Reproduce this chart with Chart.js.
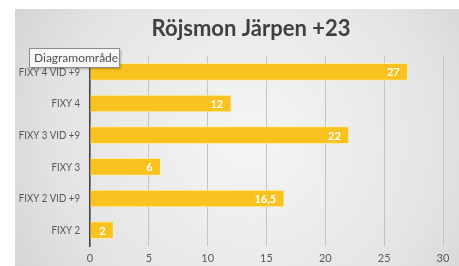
<!DOCTYPE html>
<html>
<head>
<meta charset="utf-8">
<script src="https://cdn.jsdelivr.net/npm/chart.js@4"></script>
<style>
  html, body { margin: 0; padding: 0; background: #fff; }
  #wrap { position: relative; width: 459px; height: 266px; }
</style>
</head>
<body>
<div id="wrap"><canvas id="barChart"></canvas></div>
<script>
// ---------- data ---------- //
const categories = ["FIXY 4 VID +9", "FIXY 4", "FIXY 3 VID +9", "FIXY 3", "FIXY 2 VID +9", "FIXY 2"];
const values = [27, 12, 22, 6, 16.5, 2];
const xTicks = [0, 5, 10, 15, 20, 25, 30];
const chartTitle = "Röjsmon Järpen +23";

const fontFamily = "Lato, 'Open Sans', sans-serif";

// gray panel behind the chart + title
const panelBg = {
  id: "panelBg",
  beforeDraw(chart) {
    const ctx = chart.ctx;
    ctx.save();
    ctx.fillStyle = "#ffffff";
    ctx.fillRect(0, 0, chart.width, chart.height);
    const g = ctx.createRadialGradient(250, 140, 20, 250, 140, 300);
    g.addColorStop(0, "#f4f4f4");
    g.addColorStop(0.6, "#e4e4e4");
    g.addColorStop(1, "#cfcfcf");
    ctx.fillStyle = g;
    ctx.fillRect(15, 9, chart.width - 15, chart.height - 9);
    ctx.fillStyle = "#404040";
    ctx.font = "bold 22px " + fontFamily;
    ctx.textAlign = "center";
    ctx.textBaseline = "middle";
    ctx.fillText(chartTitle, 251, 29);
    ctx.restore();
  }
};

// category labels, squeezed a bit to look like Calibri
const catLabels = {
  id: "catLabels",
  afterDraw(chart) {
    const ctx = chart.ctx;
    const y = chart.scales.y;
    ctx.save();
    ctx.fillStyle = "#595959";
    ctx.font = "11.5px " + fontFamily;
    ctx.textAlign = "right";
    ctx.textBaseline = "middle";
    categories.forEach((c, i) => {
      ctx.save();
      ctx.translate(80, y.getPixelForTick(i));
      ctx.scale(0.84, 1);
      ctx.fillText(c, 0, 0);
      ctx.restore();
    });
    ctx.restore();
  }
};

// value labels inside the bar end
const valueLabels = {
  id: "valueLabels",
  afterDatasetsDraw(chart) {
    const ctx = chart.ctx;
    const meta = chart.getDatasetMeta(0);
    ctx.save();
    ctx.fillStyle = "#ffffff";
    ctx.font = "bold 11px " + fontFamily;
    ctx.textAlign = "right";
    ctx.textBaseline = "middle";
    meta.data.forEach((bar, i) => {
      const txt = String(values[i]).replace(".", ",");
      ctx.fillText(txt, bar.x - 8, bar.y + 1);
    });
    ctx.restore();
  }
};

// the little "Diagramområde" hover box
const hoverBox = {
  id: "hoverBox",
  afterDraw(chart) {
    const ctx = chart.ctx;
    ctx.save();
    ctx.shadowColor = "rgba(0,0,0,0.25)";
    ctx.shadowOffsetX = 1;
    ctx.shadowOffsetY = 1;
    ctx.shadowBlur = 2;
    ctx.fillStyle = "#f7f7f7";
    ctx.fillRect(29.5, 48.5, 90, 19);
    ctx.shadowColor = "transparent";
    ctx.strokeStyle = "#8c8c8c";
    ctx.lineWidth = 1;
    ctx.strokeRect(29.5, 48.5, 90, 19);
    ctx.fillStyle = "#505050";
    ctx.font = "12px " + fontFamily;
    ctx.textAlign = "left";
    ctx.textBaseline = "middle";
    ctx.fillText("Diagramområde", 34, 58);
    ctx.restore();
  }
};

const ctx = document.getElementById("barChart").getContext("2d");
const barChart = new Chart(ctx, {
  type: "bar",
  data: {
    labels: categories,
    datasets: [
      {
        data: values,
        backgroundColor: "#f9c21f",
        borderColor: "rgba(255,235,170,0.9)",
        borderWidth: 1,
        barThickness: 17,
      },
    ],
  },
  options: {
    indexAxis: "y",
    responsive: true,
    maintainAspectRatio: false,
    animation: false,
    layout: { padding: { left: 0, right: 16, top: 56, bottom: 0 } },
    plugins: {
      legend: { display: false },
      tooltip: { enabled: false },
      title: { display: false },
    },
    scales: {
      x: {
        min: 0,
        max: 30,
        afterBuildTicks(scale) {
          scale.ticks = xTicks.map(v => ({ value: v }));
        },
        afterFit(scale) { scale.height = 20; },
        grid: { color: "#c4c4c4", drawTicks: false },
        border: { display: false },
        ticks: { color: "#595959", font: { family: fontFamily, size: 11 }, padding: 6 },
      },
      y: {
        afterFit(scale) { scale.width = 90; },
        grid: { display: false },
        border: { display: true, color: "#404040", width: 1.5 },
        ticks: { display: false },
      },
    },
  },
  plugins: [panelBg, catLabels, valueLabels, hoverBox],
});
</script>
</body>
</html>
